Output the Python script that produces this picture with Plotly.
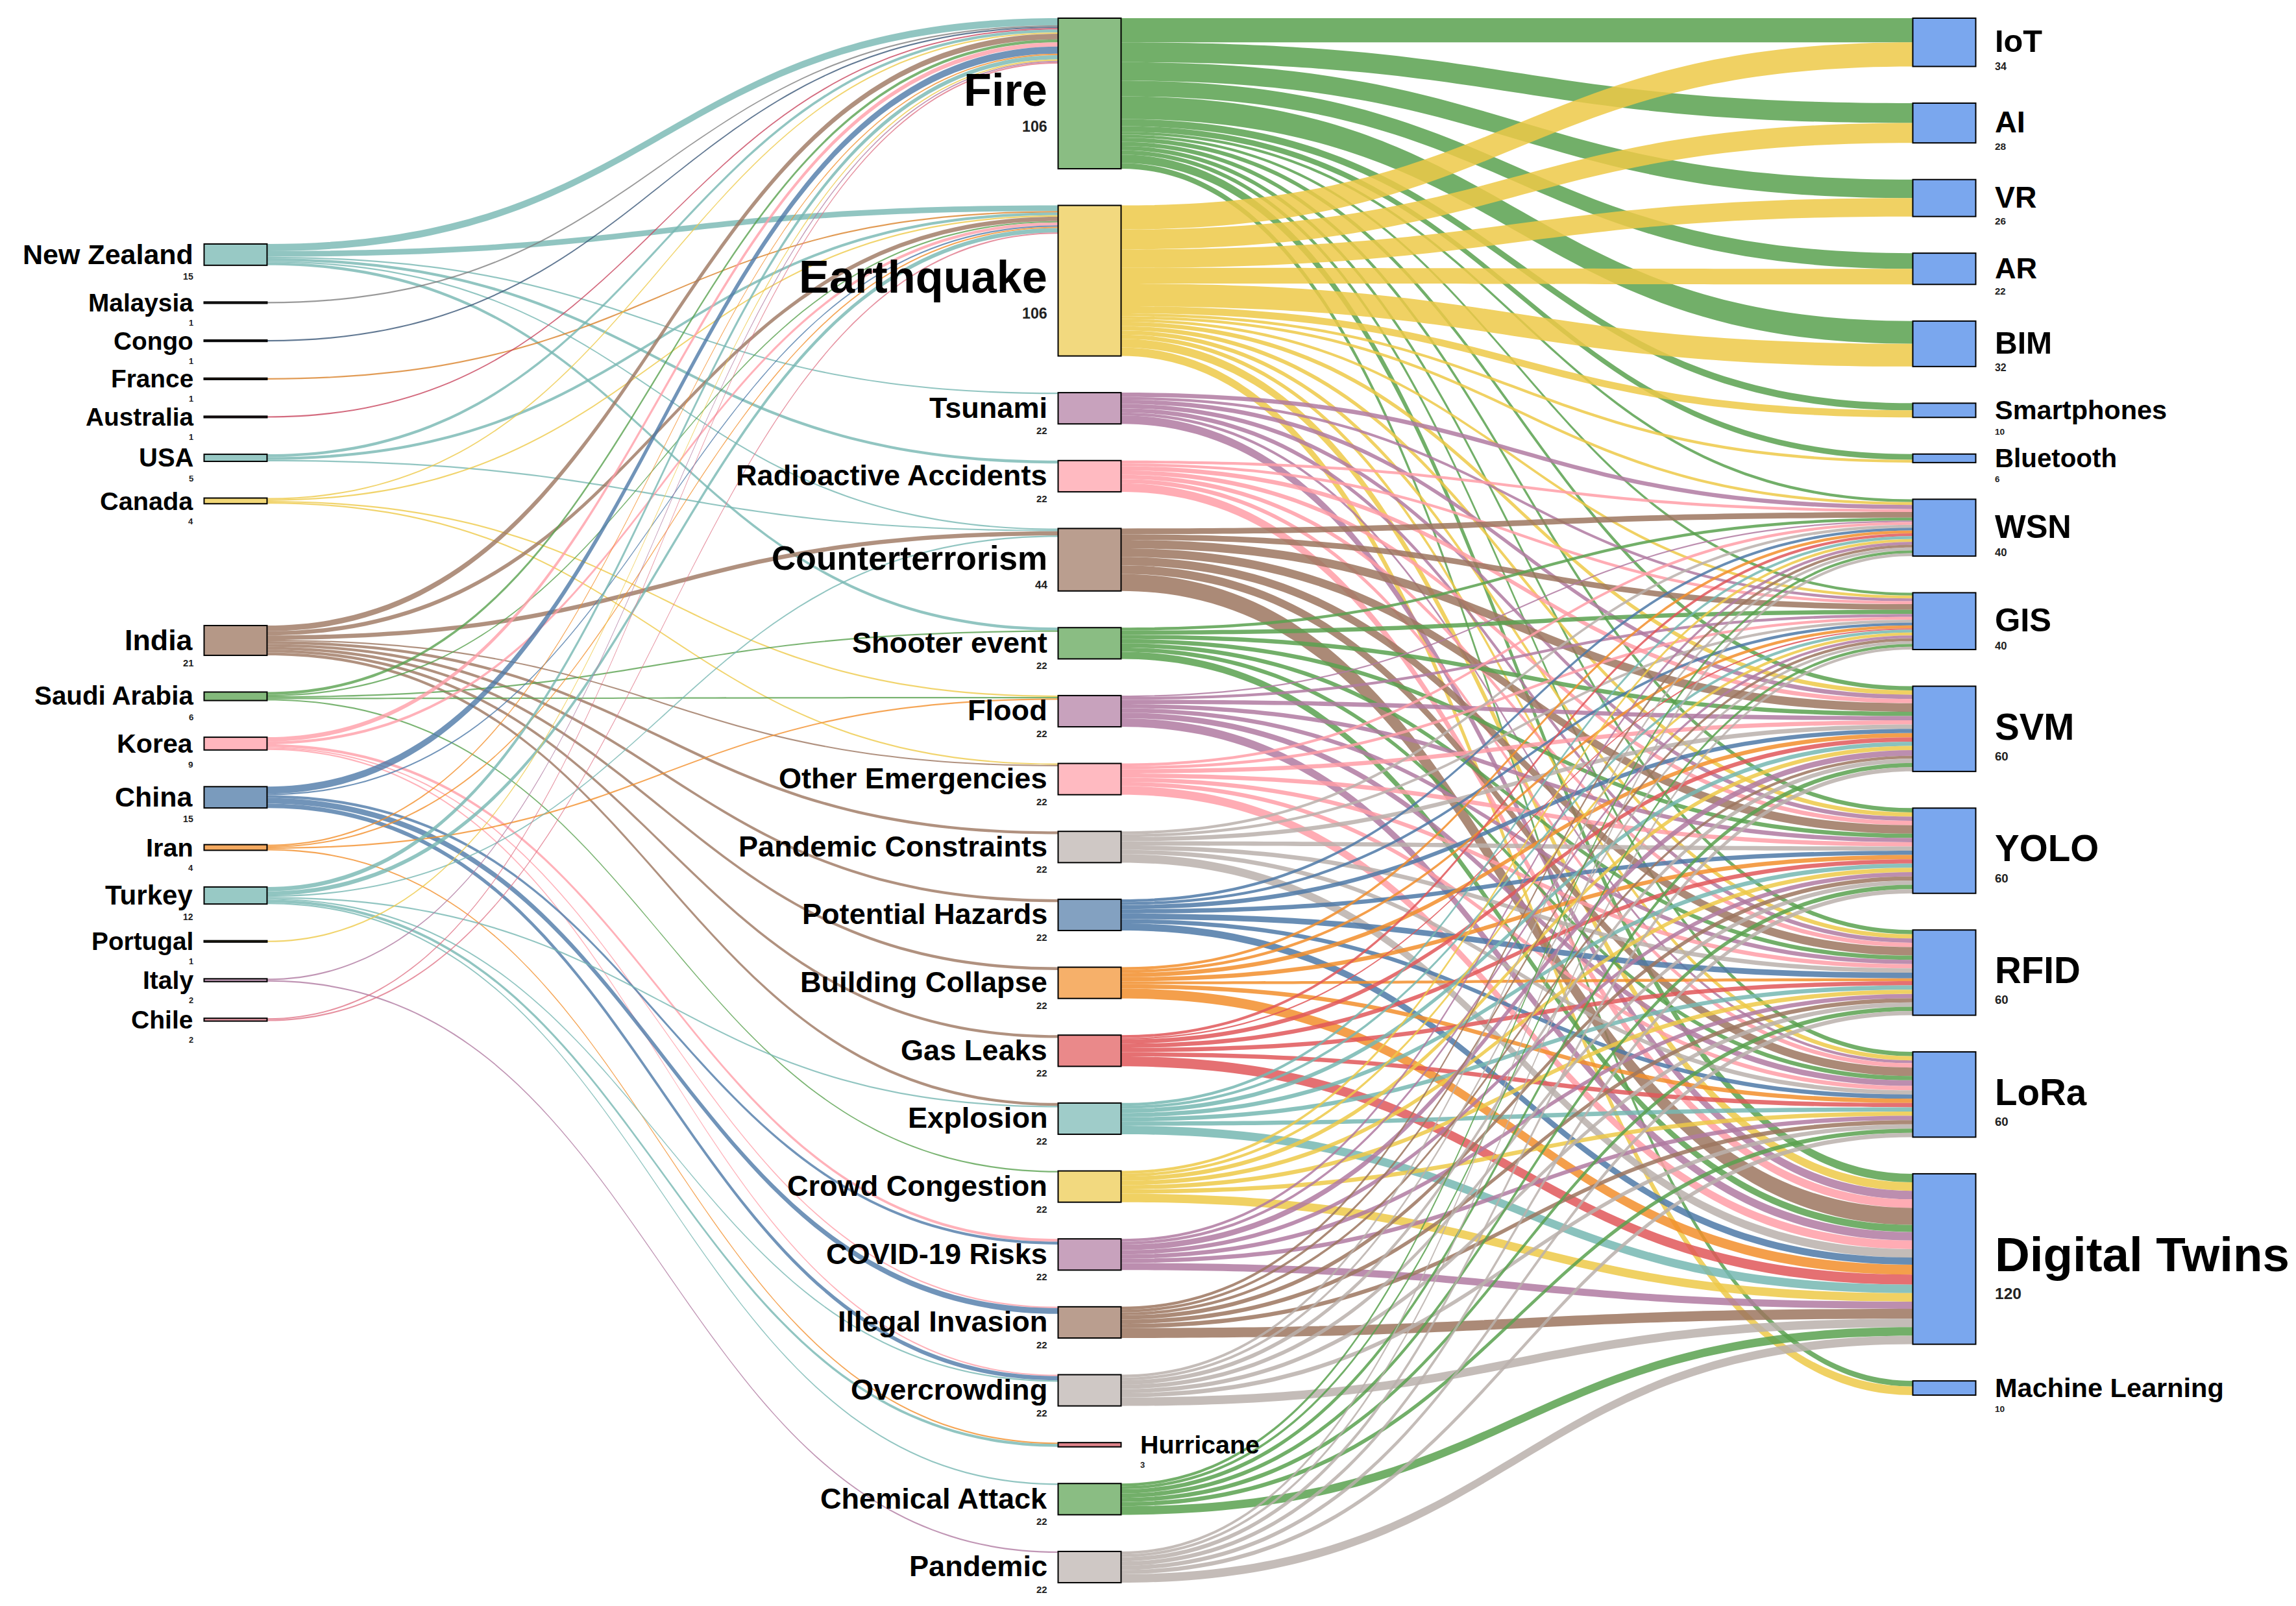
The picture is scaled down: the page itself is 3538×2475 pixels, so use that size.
import plotly.graph_objects as go
from collections import defaultdict

# ---- data ---------------------------------------------------------------
countries = ["New Zealand", "Malaysia", "Congo", "France", "Australia", "USA", "Canada",
             "India", "Saudi Arabia", "Korea", "China", "Iran", "Turkey", "Portugal",
             "Italy", "Chile"]

hazards = ["Fire", "Earthquake", "Tsunami", "Radioactive Accidents", "Counterterrorism",
           "Shooter event", "Flood", "Other Emergencies", "Pandemic Constraints",
           "Potential Hazards", "Building Collapse", "Gas Leaks", "Explosion",
           "Crowd Congestion", "COVID-19 Risks", "Illegal Invasion", "Overcrowding",
           "Hurricane", "Chemical Attack", "Pandemic"]

technologies = ["IoT", "AI", "VR", "AR", "BIM", "Smartphones", "Bluetooth", "WSN", "GIS",
                "SVM", "YOLO", "RFID", "LoRa", "Digital Twins", "Machine Learning"]

# country -> hazard
country_links = [
    ("New Zealand", "Fire", 5), ("New Zealand", "Earthquake", 4), ("New Zealand", "Tsunami", 1),
    ("New Zealand", "Radioactive Accidents", 2), ("New Zealand", "Counterterrorism", 1),
    ("New Zealand", "Shooter event", 2),
    ("Malaysia", "Fire", 1),
    ("Congo", "Fire", 1),
    ("France", "Earthquake", 1),
    ("Australia", "Fire", 1),
    ("USA", "Fire", 2), ("USA", "Earthquake", 2), ("USA", "Counterterrorism", 1),
    ("Canada", "Fire", 1), ("Canada", "Earthquake", 1), ("Canada", "Flood", 1),
    ("Canada", "Other Emergencies", 1),
    ("India", "Fire", 4), ("India", "Earthquake", 3), ("India", "Counterterrorism", 3),
    ("India", "Other Emergencies", 1), ("India", "Pandemic Constraints", 2),
    ("India", "Potential Hazards", 2), ("India", "Building Collapse", 2),
    ("India", "Gas Leaks", 2), ("India", "Explosion", 2),
    ("Saudi Arabia", "Fire", 2), ("Saudi Arabia", "Earthquake", 1),
    ("Saudi Arabia", "Shooter event", 1), ("Saudi Arabia", "Flood", 1),
    ("Saudi Arabia", "Crowd Congestion", 1),
    ("Korea", "Fire", 3), ("Korea", "Earthquake", 2), ("Korea", "COVID-19 Risks", 2),
    ("Korea", "Illegal Invasion", 1), ("Korea", "Overcrowding", 1),
    ("China", "Fire", 5), ("China", "Earthquake", 1), ("China", "COVID-19 Risks", 2),
    ("China", "Illegal Invasion", 4), ("China", "Overcrowding", 3),
    ("Iran", "Fire", 1), ("Iran", "Earthquake", 1), ("Iran", "Flood", 1), ("Iran", "Hurricane", 1),
    ("Turkey", "Fire", 3), ("Turkey", "Earthquake", 3), ("Turkey", "Counterterrorism", 1),
    ("Turkey", "Explosion", 1), ("Turkey", "Overcrowding", 1), ("Turkey", "Hurricane", 2),
    ("Turkey", "Chemical Attack", 1),
    ("Portugal", "Fire", 1),
    ("Italy", "Fire", 1), ("Italy", "Pandemic", 1),
    ("Chile", "Fire", 1), ("Chile", "Earthquake", 1),
]

# Fire / Earthquake -> every technology (same order as `technologies`)
fire_to_tech = [17, 14, 13, 11, 16, 5, 4, 2, 2, 3, 3, 3, 3, 6, 4]
quake_to_tech = [17, 14, 13, 11, 16, 5, 2, 2, 2, 3, 3, 3, 3, 6, 6]

# other hazards -> sensing / analysis technologies
sensing_techs = ["WSN", "GIS", "SVM", "YOLO", "RFID", "LoRa", "Digital Twins"]
tsunami_to_tech = [3, 2, 3, 3, 3, 2, 6]
radioactive_to_tech = [2, 2, 3, 3, 3, 3, 6]
counterterrorism_to_tech = [4, 4, 6, 6, 6, 6, 12]
shooter_to_tech = [2, 3, 3, 3, 3, 3, 5]
flood_to_tech = [1, 2, 3, 3, 3, 4, 6]
other_to_tech = [2, 2, 3, 3, 3, 3, 6]
pandemic_constraints_to_tech = [2, 2, 3, 3, 3, 3, 6]
potential_hazards_to_tech = [2, 2, 3, 3, 4, 3, 5]
building_collapse_to_tech = [2, 2, 3, 3, 2, 3, 7]
gas_leaks_to_tech = [2, 1, 3, 3, 3, 3, 7]
explosion_to_tech = [2, 2, 3, 3, 3, 3, 6]
crowd_to_tech = [2, 2, 3, 3, 3, 3, 6]
covid_to_tech = [2, 2, 4, 3, 3, 3, 5]
illegal_to_tech = [2, 2, 2, 3, 3, 3, 7]
overcrowding_to_tech = [2, 2, 3, 3, 3, 3, 6]
chemical_to_tech = [2, 2, 3, 3, 3, 3, 6]
pandemic_to_tech = [2, 2, 3, 3, 3, 3, 6]

# ---- colours ------------------------------------------------------------
BLUE, ORANGE, RED, TEAL = "#4E79A7", "#F28E2B", "#E15759", "#76B7B2"
GREEN, YELLOW, PURPLE, PINK = "#59A14F", "#EDC948", "#B07AA1", "#FF9DA7"
BROWN, GRAY = "#9C755F", "#BAB0AC"

country_colors = {
    "New Zealand": TEAL, "Malaysia": "#808080", "Congo": "#3B5878", "France": "#D9822B",
    "Australia": "#C8455E", "USA": TEAL, "Canada": YELLOW, "India": BROWN,
    "Saudi Arabia": GREEN, "Korea": PINK, "China": BLUE, "Iran": ORANGE, "Turkey": TEAL,
    "Portugal": YELLOW, "Italy": PURPLE, "Chile": "#E07688",
}
hazard_colors = {
    "Fire": GREEN, "Earthquake": YELLOW, "Tsunami": PURPLE, "Radioactive Accidents": PINK,
    "Counterterrorism": BROWN, "Shooter event": GREEN, "Flood": PURPLE,
    "Other Emergencies": PINK, "Pandemic Constraints": GRAY, "Potential Hazards": BLUE,
    "Building Collapse": ORANGE, "Gas Leaks": RED, "Explosion": TEAL,
    "Crowd Congestion": YELLOW, "COVID-19 Risks": PURPLE, "Illegal Invasion": BROWN,
    "Overcrowding": GRAY, "Hurricane": "#D24E58", "Chemical Attack": GREEN, "Pandemic": GRAY,
}
TECH_FILL, TECH_LINE = "#7AA7EE", "#3C69C2"


def rgba(hex_color, a):
    h = hex_color.lstrip("#")
    r, g, b = int(h[0:2], 16), int(h[2:4], 16), int(h[4:6], 16)
    return f"rgba({r},{g},{b},{a})"


def darker(hex_color, f=0.7):
    h = hex_color.lstrip("#")
    r, g, b = (int(h[i:i + 2], 16) for i in (0, 2, 4))
    return f"rgb({int(r * f)},{int(g * f)},{int(b * f)})"


# ---- build links --------------------------------------------------------
hazard_links = []
for t, v in zip(technologies, fire_to_tech):
    hazard_links.append(("Fire", t, v))
for t, v in zip(technologies, quake_to_tech):
    hazard_links.append(("Earthquake", t, v))
for hz, split in [("Tsunami", tsunami_to_tech), ("Radioactive Accidents", radioactive_to_tech),
                  ("Counterterrorism", counterterrorism_to_tech), ("Shooter event", shooter_to_tech),
                  ("Flood", flood_to_tech), ("Other Emergencies", other_to_tech),
                  ("Pandemic Constraints", pandemic_constraints_to_tech),
                  ("Potential Hazards", potential_hazards_to_tech),
                  ("Building Collapse", building_collapse_to_tech), ("Gas Leaks", gas_leaks_to_tech),
                  ("Explosion", explosion_to_tech), ("Crowd Congestion", crowd_to_tech),
                  ("COVID-19 Risks", covid_to_tech), ("Illegal Invasion", illegal_to_tech),
                  ("Overcrowding", overcrowding_to_tech), ("Chemical Attack", chemical_to_tech),
                  ("Pandemic", pandemic_to_tech)]:
    for t, v in zip(sensing_techs, split):
        hazard_links.append((hz, t, v))

names = countries + hazards + technologies
idx = {n: i for i, n in enumerate(names)}

inflow, outflow = defaultdict(float), defaultdict(float)
for s, t, v in country_links + hazard_links:
    outflow[s] += v
    inflow[t] += v
value = {n: max(inflow[n], outflow[n]) for n in names}

# ---- layout geometry ----------------------------------------------------
W, H = 3538, 2475
T, B = 28, 36
PLOT_H = H - T - B
PAD = 60          # padding used by plotly's own sizing pass
THICK = 97
GAP = 56.5        # gap used when stacking the nodes

# node scale as plotly (d3-sankey) computes it
cols = [countries,
        [h for h in hazards if outflow[h] > 0],
        technologies + [h for h in hazards if outflow[h] == 0]]
k = min((PLOT_H - (len(c) - 1) * PAD) / sum(value[n] for n in c) for c in cols)

col_x = {"left": 355, "mid": 1671, "right": 2988}


def stack(group, top):
    out, y = {}, top
    for n in group:
        h = value[n] * k
        out[n] = y + h / 2
        y += h + GAP
    return out


centers = {}
centers.update(stack(countries[:7], 368))
centers.update(stack(countries[7:], 956))
centers.update(stack(hazards, 20))
centers.update(stack(technologies, 20))

node_x, node_y, fills, lines = [], [], [], []
for n in names:
    if n in countries:
        cx, c = col_x["left"], country_colors[n]
        fills.append(rgba(c, 0.75))
        lines.append(darker(c))
    elif n in hazards:
        cx, c = col_x["mid"], hazard_colors[n]
        fills.append(rgba(c, 0.7))
        lines.append(darker(c))
    else:
        cx = col_x["right"]
        fills.append(TECH_FILL)
        lines.append(TECH_LINE)
    node_x.append(cx / W)
    node_y.append((centers[n] - T) / PLOT_H)

src, tgt, vals, lcols = [], [], [], []
for s, t, v in country_links:
    src.append(idx[s]); tgt.append(idx[t]); vals.append(v)
    lcols.append(rgba(country_colors[s], 0.8))
for s, t, v in hazard_links:
    src.append(idx[s]); tgt.append(idx[t]); vals.append(v)
    lcols.append(rgba(hazard_colors[s], 0.85))

fig = go.Figure(go.Sankey(
    arrangement="fixed",
    node=dict(
        label=[""] * len(names),
        customdata=names,
        hovertemplate="%{customdata}: %{value}<extra></extra>",
        x=node_x, y=node_y,
        pad=PAD, thickness=THICK,
        color=fills,
        line=dict(color=lines, width=2),
    ),
    link=dict(source=src, target=tgt, value=vals, color=lcols,
              hovertemplate="%{value}<extra></extra>"),
))

# ---- labels (name + small value) ----------------------------------------
FONT = "Liberation Sans, Arial, Helvetica, sans-serif"
annotations = []
for n in names:
    s = 38.5 + 0.3 * value[n]
    right_side = n in technologies or n == "Hurricane"
    if n in countries:
        cx = col_x["left"]
    elif n in hazards:
        cx = col_x["mid"]
    else:
        cx = col_x["right"]
    if right_side:
        x = (cx + 7 + THICK / 2 + 20) / W
        anchor = "left"
    else:
        x = (cx + 7 - THICK / 2 - 22) / W
        anchor = "right"
    y = 1 - (centers[n] + 7 - T) / PLOT_H
    annotations.append(dict(
        x=x, y=y, xref="paper", yref="paper", xanchor=anchor, yanchor="middle",
        text=f"<b>{n}</b>", showarrow=False, align=anchor,
        font=dict(family=FONT, size=s, color="black"), yshift=0.18 * s))
    annotations.append(dict(
        x=x, y=y, xref="paper", yref="paper", xanchor=anchor, yanchor="middle",
        text=f"<b>{int(value[n])}</b>", showarrow=False, align=anchor,
        font=dict(family=FONT, size=0.33 * s, color="#222222"), yshift=-0.62 * s))

fig.update_layout(
    width=W, height=H,
    margin=dict(l=0, r=0, t=T, b=B),
    paper_bgcolor="white", plot_bgcolor="white",
    annotations=annotations,
    font=dict(family=FONT),
)

fig.write_html("out.html")
